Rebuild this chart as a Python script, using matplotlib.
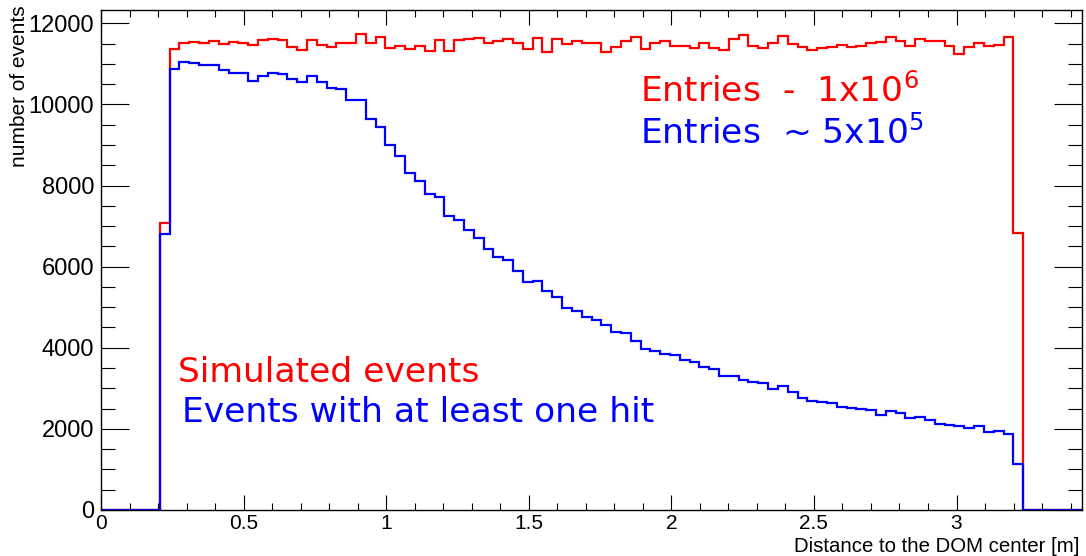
import matplotlib
matplotlib.use("Agg")
import matplotlib.pyplot as plt
from matplotlib.ticker import MultipleLocator
import numpy as np

# binning: 100 bins between 0 and 3.44 m, only bins 6..93 are filled
n_bins = 100
x_max = 3.44
first_bin = 6

simulated = [7080, 11360, 11510, 11550, 11510, 11560, 11500, 11530, 11510, 11470,
             11580, 11620, 11590, 11420, 11350, 11580, 11470, 11420, 11510, 11510,
             11740, 11520, 11660, 11380, 11450, 11370, 11440, 11320, 11580, 11320,
             11590, 11620, 11640, 11510, 11560, 11610, 11520, 11360, 11630, 11300,
             11620, 11480, 11560, 11510, 11510, 11280, 11420, 11560, 11650, 11360,
             11520, 11560, 11430, 11450, 11400, 11520, 11400, 11340, 11610, 11720,
             11430, 11390, 11510, 11680, 11490, 11420, 11330, 11380, 11420, 11470,
             11420, 11440, 11510, 11540, 11650, 11560, 11450, 11600, 11570, 11570,
             11430, 11250, 11420, 11510, 11450, 11470, 11670, 6830]

with_hit = [6810, 10880, 11050, 11030, 10960, 10980, 10840, 10770, 10770, 10580,
            10700, 10770, 10740, 10630, 10540, 10700, 10540, 10410, 10380, 10120,
            10100, 9640, 9440, 8990, 8720, 8310, 8110, 7790, 7720, 7240,
            7140, 6910, 6700, 6440, 6240, 6160, 5900, 5610, 5650, 5390,
            5240, 4990, 4900, 4770, 4680, 4570, 4400, 4360, 4160, 3970,
            3910, 3840, 3810, 3700, 3640, 3520, 3480, 3310, 3300, 3200,
            3160, 3130, 2990, 3050, 2910, 2770, 2690, 2660, 2630, 2550,
            2510, 2490, 2470, 2330, 2440, 2400, 2260, 2300, 2220, 2130,
            2100, 2080, 2020, 2070, 1930, 1950, 1880, 1140]


def full_hist(block):
    vals = np.zeros(n_bins)
    vals[first_bin:first_bin + len(block)] = block
    return vals


edges = np.linspace(0, x_max, n_bins + 1)
h_sim = full_hist(simulated)
h_hit = full_hist(with_hit)

plt.rcParams['font.family'] = ['Liberation Sans', 'DejaVu Sans']
plt.rcParams['mathtext.fontset'] = 'dejavusans'

fig = plt.figure(figsize=(10.86, 5.56), dpi=100)
ax = fig.add_axes([101 / 1086, 46 / 556, 981 / 1086, 500 / 556])

ax.stairs(h_sim, edges, baseline=None, color='#ff0000', lw=1.6)
ax.stairs(h_hit, edges, baseline=None, color='#0000ff', lw=1.6)

ax.set_xlim(0, x_max)
ax.set_ylim(0, 1.05 * max(simulated))

ax.xaxis.set_major_locator(MultipleLocator(0.5))
ax.xaxis.set_minor_locator(MultipleLocator(0.1))
ax.yaxis.set_major_locator(MultipleLocator(2000))
ax.yaxis.set_minor_locator(MultipleLocator(500))
ax.xaxis.set_major_formatter(matplotlib.ticker.FuncFormatter(lambda v, p: f"{v:g}"))

ax.tick_params(axis='both', which='both', direction='in', top=True, right=True,
               color='black', width=0.8)
ax.tick_params(axis='x', which='major', length=11, labelsize=15, pad=3)
ax.tick_params(axis='x', which='minor', length=5)
ax.tick_params(axis='y', which='major', length=20, labelsize=17, pad=5)
ax.tick_params(axis='y', which='minor', length=10)
for side in ax.spines.values():
    side.set_linewidth(1.0)

fig.text(20 / 1086, 1 - 5 / 556, "number of events", rotation=90,
         ha='center', va='top', fontsize=15)
fig.text(1080 / 1086, 10 / 556, "Distance to the DOM center [m]",
         ha='right', va='center', fontsize=14.7)

big = dict(family='DejaVu Sans', fontsize=24.8)
ax.text(0.549, 0.816, r"Entries  -  1x10$^{\mathsf{6}}$", transform=ax.transAxes,
        color='#ff0000', ha='left', va='baseline', **big)
ax.text(0.549, 0.734, r"Entries  ~ 5x10$^{\mathsf{5}}$", transform=ax.transAxes,
        color='#0000ff', ha='left', va='baseline', **big)
ax.text(0.078, 0.255, "Simulated events", transform=ax.transAxes,
        color='#ff0000', ha='left', va='baseline', **big)
ax.text(0.083, 0.175, "Events with at least one hit", transform=ax.transAxes,
        color='#0000ff', ha='left', va='baseline', **big)

fig.savefig("out.png", dpi=100)
